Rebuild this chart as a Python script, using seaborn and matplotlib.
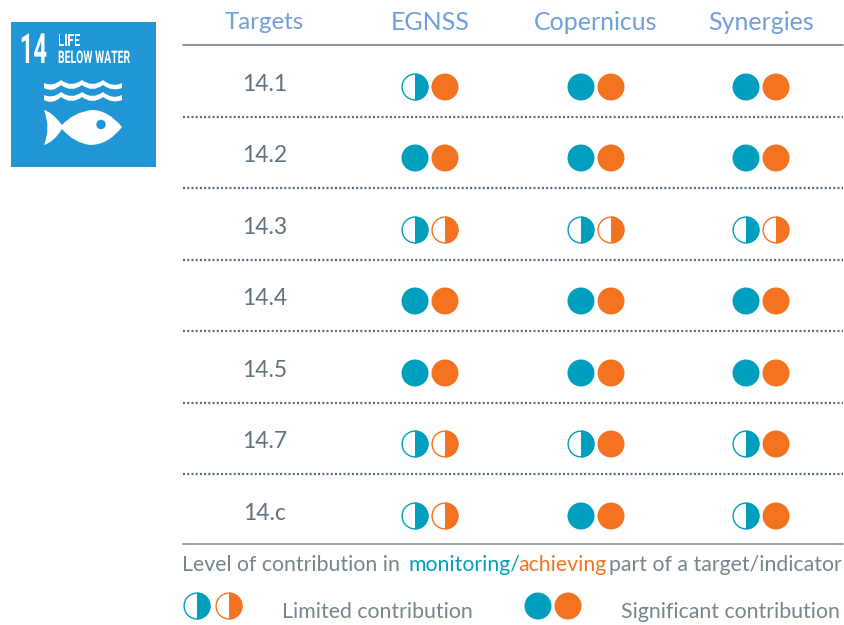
import matplotlib
matplotlib.use("Agg")
import matplotlib.pyplot as plt
from matplotlib.markers import MarkerStyle
from matplotlib.patches import Rectangle, Circle, PathPatch
from matplotlib.patheffects import AbstractPathEffect
from matplotlib.path import Path
from matplotlib.transforms import Affine2D
import pandas as pd
import seaborn as sns

# data
targets = ["14.1", "14.2", "14.3", "14.4", "14.5", "14.7", "14.c"]
programmes = ["EGNSS", "Copernicus", "Synergies"]
# L = limited, S = significant
monitoring = {
    "EGNSS": ["L", "S", "L", "S", "S", "L", "L"],
    "Copernicus": ["S", "S", "L", "S", "S", "L", "S"],
    "Synergies": ["S", "S", "L", "S", "S", "L", "L"],
}
achieving = {
    "EGNSS": ["S", "S", "L", "S", "S", "L", "L"],
    "Copernicus": ["S", "S", "L", "S", "S", "S", "S"],
    "Synergies": ["S", "S", "L", "S", "S", "S", "S"],
}

TEAL = "#009fbd"
ORANGE = "#f47321"
GREY = "#5f7280"
LIGHT = "#74858f"
BLUE = "#6f9fdc"
TILE = "#2196d6"

sns.set_theme(style="white")
plt.rcParams["font.family"] = ["Lato", "DejaVu Sans"]

fig = plt.figure(figsize=(8.44, 6.25), dpi=100)
ax = fig.add_axes([0, 0, 1, 1])
ax.set_xlim(0, 844)
ax.set_ylim(625, 0)
ax.axis("off")

# layout in pixels
row_y = [87, 158, 230, 301, 373, 444, 516]
col_x = {"EGNSS": 430, "Copernicus": 596, "Synergies": 761}
DOT = 378
RING = 345

rows = []
for prog in programmes:
    for i, t in enumerate(targets):
        rows.append((prog, col_x[prog] - 15, row_y[i], monitoring[prog][i], "m"))
        rows.append((prog, col_x[prog] + 15, row_y[i], achieving[prog][i], "a"))
df = pd.DataFrame(rows, columns=["prog", "x", "y", "level", "kind"])
# legend marks go in the same table
legend = pd.DataFrame([
    ("leg", 197, 606, "L", "m"), ("leg", 229, 606, "L", "a"),
    ("leg", 538, 606, "S", "m"), ("leg", 568, 606, "S", "a"),
], columns=df.columns)
df = pd.concat([df, legend], ignore_index=True)
palette = {"m": TEAL, "a": ORANGE}

full = df[df.level == "S"]
half = df[df.level == "L"]
sns.scatterplot(data=full, x="x", y="y", hue="kind", palette=palette, s=DOT,
                linewidth=0, legend=False, ax=ax, zorder=3)
sns.scatterplot(data=half, x="x", y="y", hue="kind", palette=palette, s=DOT,
                marker=MarkerStyle("o", fillstyle="right"), linewidth=0,
                legend=False, ax=ax, zorder=3)
for kind, col in palette.items():
    sub = half[half.kind == kind]
    ax.scatter(sub.x, sub.y, s=RING, facecolors="none", edgecolors=col,
               linewidths=1.0, zorder=3)
ax.set_xlim(0, 844)
ax.set_ylim(625, 0)
ax.axis("off")

# header and rules
ax.text(264.5, 22.5, "Targets", color=BLUE, fontsize=17.3, ha="center", va="center")
for prog in programmes:
    ax.text(col_x[prog], 22.5, prog, color=BLUE, fontsize=18, ha="center", va="center")
ax.plot([183, 843], [45, 45], color="#7f8e96", lw=1.3)
ax.plot([183, 843], [544, 544], color="#8b9aa0", lw=1.3)
for y in [117, 188, 260, 331, 403, 474]:
    ax.plot([183, 843], [y, y], color="#56697a", lw=1.6,
            linestyle=(0, (0.9, 1.0)))
for t, y in zip(targets, row_y):
    ax.text(265, y - 2.5, t, color=GREY, fontsize=16.5, ha="center", va="center")

# footer line
foot_y = 565
FOOT = 15.3
ax.text(182, foot_y, "Level of contribution in", color=LIGHT, fontsize=FOOT, va="center")
ax.text(408, foot_y, "monitoring/", color=TEAL, fontsize=FOOT, va="center")
ax.text(518, foot_y, "achieving", color=ORANGE, fontsize=FOOT, va="center")
ax.text(609, foot_y, "part of a target/indicator", color=LIGHT, fontsize=FOOT, va="center")
ax.text(282, 612, "Limited contribution", color=LIGHT, fontsize=FOOT, va="center")
ax.text(621, 612, "Significant contribution", color=LIGHT, fontsize=FOOT, va="center")


# no condensed font installed, so squeeze the drawn glyphs sideways
class Squeeze(AbstractPathEffect):
    def __init__(self, x0, sx):
        super().__init__()
        self.x0, self.sx = x0, sx

    def draw_path(self, renderer, gc, tpath, affine, rgbFace=None):
        t = affine + Affine2D().translate(-self.x0, 0).scale(self.sx, 1).translate(self.x0, 0)
        renderer.draw_path(gc, tpath, t, rgbFace)


def tile_text(x, y, s, size, sx, ha="left"):
    ax.text(x, y, s, color="white", fontsize=size, fontweight="bold", family="Roboto",
            va="baseline", ha=ha, path_effects=[Squeeze(x, sx)])


# SDG tile
ax.add_patch(Rectangle((11, 22), 145, 145, color=TILE, lw=0))
tile_text(47, 63, "14", 30, 0.57, ha="right")
tile_text(58, 46, "LIFE", 12.5, 0.66)
tile_text(58, 63, "BELOW WATER", 12.5, 0.6)

# waves
for wy in [80, 92]:
    crests = [61, 82, 103]
    v = [(44, wy + 3)]
    for a, b in zip([44] + crests, crests + [122]):
        v += [((a + b) / 2, wy + 8 if a != 44 else wy + 7), (b, wy if b != 122 else wy + 3)]
    back = [(122, wy + 8)]
    for a, b in zip([122] + crests[::-1], crests[::-1] + [44]):
        back += [((a + b) / 2, wy + 13 if a != 122 else wy + 12), (b, wy + 5 if b != 44 else wy + 8)]
    pts = v + back + [(44, wy + 3)]
    codes = [Path.MOVETO] + [Path.CURVE3] * 8 + [Path.LINETO] + [Path.CURVE3] * 8 + [Path.LINETO]
    ax.add_patch(PathPatch(Path(pts, codes), facecolor="white", lw=0))

# fish
fish = Path(
    [(44, 110), (52, 112), (62, 125), (74, 112), (92, 110), (108, 110), (122, 127),
     (108, 145), (90, 145), (74, 143), (62, 129), (54, 142), (44, 145), (51, 128), (44, 110)],
    [Path.MOVETO] + [Path.CURVE3] * 14,
)
ax.add_patch(PathPatch(fish, facecolor="white", lw=0))
ax.add_patch(Circle((101, 124.5), 4.7, color=TILE, lw=0))

fig.savefig("out.png", dpi=100)
